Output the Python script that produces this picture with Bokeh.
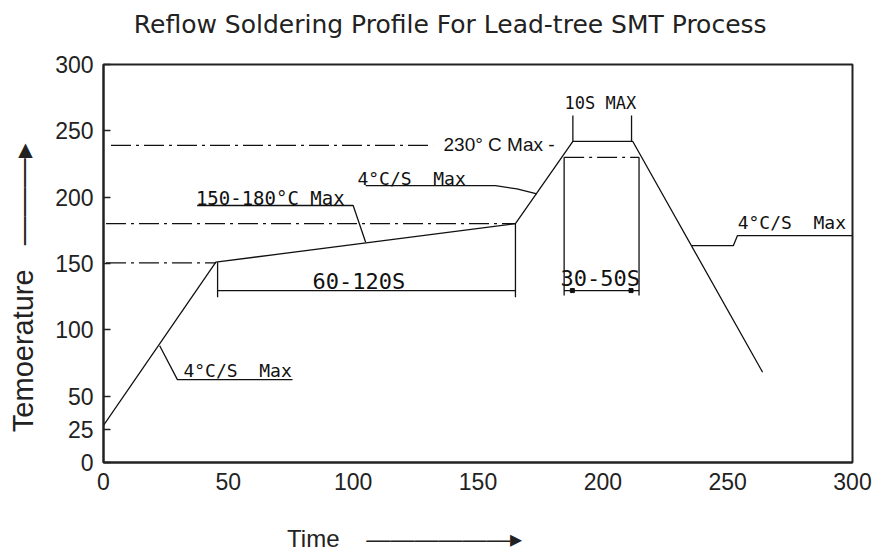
from bokeh.plotting import figure
from bokeh.models import Range1d, FixedTicker, LinearAxis
from bokeh.core.properties import value
from bokeh.embed import file_html
from bokeh.resources import INLINE

NB = "\u00a0"      # non-breaking space (kept by SVG)
DASH = "\u2014"    # em dash, used to draw the axis-title arrows
HEAD = "\u25b8"    # small arrow head

# ---------------- data ----------------
title_text = "Reflow Soldering Profile For Lead-tree SMT Process"
x_label = "Time"
y_label = "Temoerature"
x_ticks = [0, 50, 100, 150, 200, 250, 300]
y_ticks = [0, 25, 50, 100, 150, 200, 250, 300]

# reflow profile (time s, temperature C)
profile_time = [0, 45, 165, 188, 212, 264]
profile_temp = [28, 151, 180, 242, 242, 68]

# dash-dot guide lines
guide_x0 = [3, 1, 1, 184.5]
guide_x1 = [132, 165, 45, 214.5]
guide_y = [239, 180, 150.5, 230]

# solid dimension / bracket segments
dim_x0 = [45.7, 45.7, 165, 184.5, 214.5, 184.5, 188, 211.5]
dim_y0 = [151, 129.6, 180, 230, 230, 129.6, 242, 242]
dim_x1 = [45.7, 165, 165, 184.5, 214.5, 214.5, 188, 211.5]
dim_y1 = [124.6, 129.6, 124.6, 125.8, 125.8, 129.6, 261.5, 261.5]
dot_x = [187.8, 211.3]
dot_y = [129.6, 129.6]

# leader lines
leader_xs = [[22.5, 29.6, 75.7], [37.5, 100, 105], [105, 157, 165.6, 173.6], [235.5, 252.3, 253.9, 300]]
leader_ys = [[88, 62.5, 62.5], [193.7, 193.7, 166], [208.7, 208.7, 206.2, 202.5], [163.5, 163.5, 171, 171]]

# annotation texts
note_text = ["4°C/S" + NB * 2 + "Max", "150-180°C Max", "4°C/S" + NB * 2 + "Max",
             "4°C/S" + NB * 2 + "Max", "60-120S", "30-50S", "10S MAX"]
note_x = [32, 37, 101.7, 254, 102.3, 199, 199]
note_y = [69.3, 199.3, 214.0, 181.1, 136.8, 139.0, 270.9]
note_size = ["18px", "19px", "18px", "18px", "22px", "22px", "17px"]
note_align = ["left", "left", "left", "left", "center", "center", "center"]
peak_text = "230° C Max -"
peak_x = 136.2
peak_y = 239.6

# ---------------- figure ----------------
p = figure(width=882, height=554, output_backend="svg", toolbar_location=None,
           x_range=Range1d(0, 300), y_range=Range1d(0, 300),
           min_border_left=103, min_border_right=30, min_border_top=64, min_border_bottom=92)
p.background_fill_color = "white"
p.border_fill_color = "white"
p.grid.visible = False
p.outline_line_color = "#222222"
p.outline_line_width = 2

for ax in (p.xaxis[0], p.yaxis[0]):
    ax.axis_line_color = "#222222"
    ax.axis_line_width = 2
    ax.major_label_text_font = "Liberation Sans"
    ax.major_label_text_font_size = "23px"
    ax.major_label_text_color = "#222222"
    ax.minor_tick_line_color = None
    ax.major_tick_out = 0

p.xaxis.ticker = FixedTicker(ticks=x_ticks)
p.yaxis.ticker = FixedTicker(ticks=y_ticks)
p.xaxis.major_tick_in = 0
p.xaxis.major_label_standoff = 10
p.yaxis.major_tick_in = 7
p.yaxis.major_tick_line_color = "#222222"
p.yaxis.major_tick_line_width = 1.5
p.yaxis.major_label_standoff = 10

# chart title, placed as the label of a tick-less axis above the frame
title_axis = LinearAxis(ticker=FixedTicker(ticks=[]), axis_label=title_text + NB * 7,
                        axis_line_color=None, major_tick_line_color=None,
                        minor_tick_line_color=None, axis_label_standoff=26,
                        axis_label_text_font="DejaVu Sans", axis_label_text_font_size="25px",
                        axis_label_text_font_style="normal", axis_label_text_color="#222222")
p.add_layout(title_axis, "above")

# axis titles (with their arrows) on label-only axes
ylab_axis = LinearAxis(ticker=FixedTicker(ticks=[]),
                       axis_label=y_label + NB * 3 + DASH * 3 + HEAD + NB * 6,
                       axis_line_color=None, major_tick_line_color=None,
                       minor_tick_line_color=None, axis_label_standoff=14,
                       axis_label_text_font="Liberation Sans", axis_label_text_font_size="29px",
                       axis_label_text_font_style="normal", axis_label_text_color="#222222")
p.add_layout(ylab_axis, "left")
xlab_axis = LinearAxis(ticker=FixedTicker(ticks=[]),
                       axis_label=x_label + NB * 4 + DASH * 6 + HEAD + NB * 22,
                       axis_line_color=None, major_tick_line_color=None,
                       minor_tick_line_color=None, axis_label_standoff=32,
                       axis_label_text_line_height=0.8,
                       axis_label_text_font="Liberation Sans", axis_label_text_font_size="24px",
                       axis_label_text_font_style="normal", axis_label_text_color="#222222")
p.add_layout(xlab_axis, "below")

# profile
p.line(profile_time, profile_temp, line_color="#111111", line_width=1.3)

# guides
p.segment(guide_x0, guide_y, guide_x1, guide_y, line_color="#111111", line_width=1.3,
          line_dash="20 5 3 5")

# dimensions
p.segment(dim_x0, dim_y0, dim_x1, dim_y1, line_color="#111111", line_width=1.3)
p.scatter(dot_x, dot_y, marker="square", size=4, color="#111111")

# leaders
p.multi_line(leader_xs, leader_ys, line_color="#111111", line_width=1.3)

# notes
p.text(x=note_x, y=note_y, text=note_text, text_font=value("DejaVu Sans Mono"),
       text_font_size=note_size, text_align=note_align, text_baseline="middle",
       text_color="#111111")
p.text(x=[peak_x], y=[peak_y], text=[peak_text], text_font=value("Liberation Sans"),
       text_font_size=value("19px"), text_align="left", text_baseline="middle",
       text_color="#111111")

open("out.html", "w").write(file_html(p, INLINE))
